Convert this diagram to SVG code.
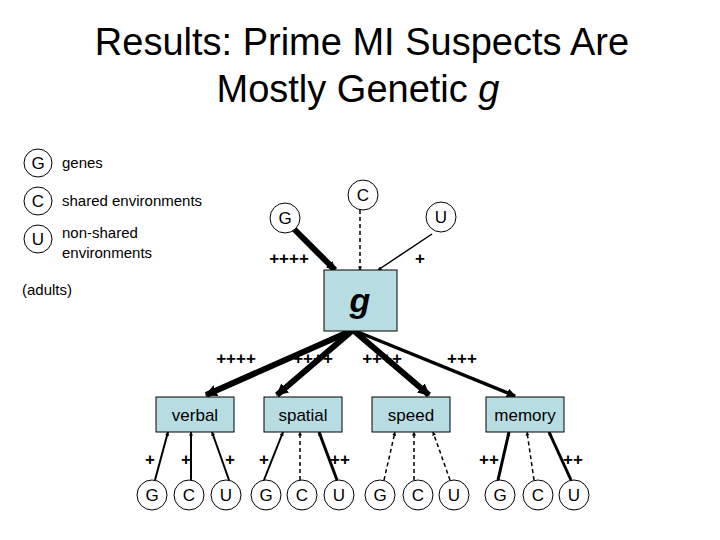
<svg xmlns="http://www.w3.org/2000/svg" width="720" height="540" viewBox="0 0 720 540">
<style>
text{font-family:"Liberation Sans",Arial,sans-serif}
.c{fill:#fff;stroke:#000;stroke-width:1}
.ct{font-size:17px;text-anchor:middle}
.box{fill:#b7dde3;stroke:#000;stroke-width:1}
.bt{font-size:17px;text-anchor:middle}
.p{font-size:17px;font-weight:bold;text-anchor:middle}
.lg{font-size:15px}
</style>
<defs>
<marker id="a" viewBox="0 0 10 10" refX="9" refY="5" markerWidth="4" markerHeight="4" orient="auto" markerUnits="userSpaceOnUse"><path d="M0,0L10,5L0,10z"/></marker>
<marker id="ab" viewBox="0 0 10 10" refX="9" refY="5" markerWidth="12" markerHeight="12" orient="auto" markerUnits="userSpaceOnUse"><path d="M0,0L10,5L0,10z"/></marker>
<marker id="as" viewBox="0 0 10 10" refX="9" refY="5" markerWidth="9" markerHeight="9" orient="auto" markerUnits="userSpaceOnUse"><path d="M0,0L10,5L0,10z"/></marker>
</defs>
<text x="362" y="55" font-size="38" text-anchor="middle">Results: Prime MI Suspects Are</text>
<text x="358" y="102" font-size="38" text-anchor="middle">Mostly Genetic <tspan font-style="italic">g</tspan></text>
<g id="legend">
<circle class="c" cx="38" cy="163" r="14"/><text class="ct" x="38" y="169">G</text><text class="lg" x="62" y="168">genes</text>
<circle class="c" cx="38" cy="201" r="14"/><text class="ct" x="38" y="207">C</text><text class="lg" x="62" y="206">shared environments</text>
<circle class="c" cx="38" cy="239" r="14"/><text class="ct" x="38" y="245">U</text><text class="lg" x="62" y="238">non-shared</text><text class="lg" x="62" y="258">environments</text>
<text class="lg" x="22" y="295">(adults)</text>
</g>
<g id="connectors" stroke="#000" fill="none">
<line x1="294" y1="229" x2="335" y2="270" stroke-width="6" marker-end="url(#as)"/>
<line x1="360" y1="210" x2="360" y2="270" stroke-width="1.5" stroke-dasharray="4,3" marker-end="url(#a)"/>
<line x1="432" y1="234" x2="378" y2="270" stroke-width="1.5" marker-end="url(#a)"/>
<line x1="353" y1="330" x2="206" y2="395" stroke-width="6" marker-end="url(#ab)"/>
<line x1="353" y1="330" x2="277" y2="395" stroke-width="6" marker-end="url(#ab)"/>
<line x1="353" y1="330" x2="429" y2="395" stroke-width="6" marker-end="url(#ab)"/>
<line x1="353" y1="330" x2="515" y2="396" stroke-width="3.5" marker-end="url(#as)"/>
<line x1="155" y1="480" x2="168" y2="432" stroke-width="2" marker-end="url(#a)"/>
<line x1="191" y1="480" x2="191" y2="432" stroke-width="2" marker-end="url(#a)"/>
<line x1="229" y1="480" x2="212" y2="432" stroke-width="2" marker-end="url(#a)"/>
<line x1="264" y1="480" x2="283" y2="432" stroke-width="2" marker-end="url(#a)"/>
<line x1="300" y1="480" x2="300" y2="432" stroke-width="1.5" stroke-dasharray="4,3" marker-end="url(#a)"/>
<line x1="337" y1="480" x2="319" y2="432" stroke-width="3" marker-end="url(#a)"/>
<line x1="384" y1="480" x2="395" y2="432" stroke-width="1.5" stroke-dasharray="4,3" marker-end="url(#a)"/>
<line x1="414" y1="480" x2="414" y2="432" stroke-width="1.5" stroke-dasharray="4,3" marker-end="url(#a)"/>
<line x1="450" y1="480" x2="433" y2="432" stroke-width="1.5" stroke-dasharray="4,3" marker-end="url(#a)"/>
<line x1="498" y1="480" x2="509" y2="432" stroke-width="3" marker-end="url(#a)"/>
<line x1="534" y1="480" x2="527" y2="432" stroke-width="1.5" stroke-dasharray="4,3" marker-end="url(#a)"/>
<line x1="571" y1="480" x2="549" y2="432" stroke-width="3" marker-end="url(#a)"/>
</g>
<g id="G-top"><circle class="c" cx="285" cy="218" r="15"/><text class="ct" x="285" y="224">G</text></g>
<g id="C-top"><circle class="c" cx="363" cy="195" r="15"/><text class="ct" x="363" y="201">C</text></g>
<g id="U-top"><circle class="c" cx="441" cy="217" r="15"/><text class="ct" x="441" y="223">U</text></g>
<g id="g"><rect class="box" x="324" y="270" width="73" height="61"/><text x="360" y="312" font-size="34" font-weight="bold" font-style="italic" text-anchor="middle">g</text></g>
<g id="verbal"><rect class="box" x="156" y="397" width="78" height="35"/><text class="bt" x="195" y="421">verbal</text></g>
<g id="spatial"><rect class="box" x="264" y="397" width="78" height="35"/><text class="bt" x="303" y="421">spatial</text></g>
<g id="speed"><rect class="box" x="372" y="397" width="78" height="35"/><text class="bt" x="411" y="421">speed</text></g>
<g id="memory"><rect class="box" x="486" y="397" width="78" height="35"/><text class="bt" x="525" y="421">memory</text></g>
<g id="bottom">
<circle class="c" cx="152" cy="495" r="15"/><text class="ct" x="152" y="501">G</text>
<circle class="c" cx="189" cy="495" r="15"/><text class="ct" x="189" y="501">C</text>
<circle class="c" cx="226" cy="495" r="15"/><text class="ct" x="226" y="501">U</text>
<circle class="c" cx="266" cy="495" r="15"/><text class="ct" x="266" y="501">G</text>
<circle class="c" cx="302" cy="495" r="15"/><text class="ct" x="302" y="501">C</text>
<circle class="c" cx="339" cy="495" r="15"/><text class="ct" x="339" y="501">U</text>
<circle class="c" cx="380" cy="495" r="15"/><text class="ct" x="380" y="501">G</text>
<circle class="c" cx="418" cy="495" r="15"/><text class="ct" x="418" y="501">C</text>
<circle class="c" cx="454" cy="495" r="15"/><text class="ct" x="454" y="501">U</text>
<circle class="c" cx="500" cy="495" r="15"/><text class="ct" x="500" y="501">G</text>
<circle class="c" cx="538" cy="495" r="15"/><text class="ct" x="538" y="501">C</text>
<circle class="c" cx="574" cy="495" r="15"/><text class="ct" x="574" y="501">U</text>
</g>
<g id="labels">
<text class="p" x="289" y="264">++++</text><text class="p" x="420" y="264">+</text>
<text class="p" x="236" y="364">++++</text><text class="p" x="313" y="364">++++</text><text class="p" x="382" y="364">++++</text><text class="p" x="462" y="364">+++</text>
<text class="p" x="150" y="465">+</text><text class="p" x="186" y="465">+</text><text class="p" x="230" y="465">+</text>
<text class="p" x="264" y="465">+</text><text class="p" x="340" y="465">++</text>
<text class="p" x="489" y="465">++</text><text class="p" x="573" y="465">++</text>
</g>
</svg>
